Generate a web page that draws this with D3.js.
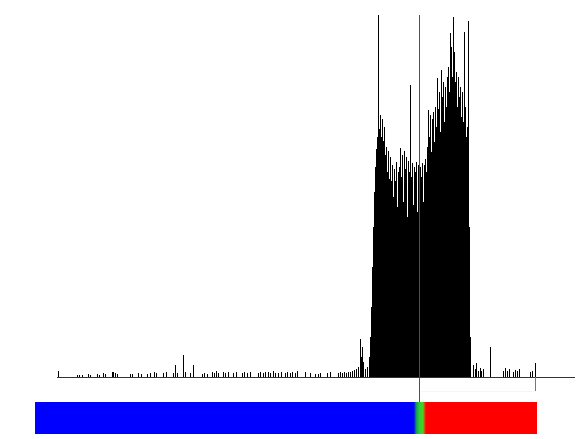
<!DOCTYPE html>
<html>
<head>
<meta charset="utf-8">
<script src="https://cdn.jsdelivr.net/npm/d3@7"></script>
<style>
  html, body { margin: 0; padding: 0; background: #fff; }
  svg { display: block; }
</style>
</head>
<body>
<svg id="chart" width="578" height="439"></svg>
<script>
// Histogram of read counts per bin, with a score band underneath.
const binCount = 480;

// Scattered low-count bins on either side of the main peak.
const sparseBins = [
  1, 20, 22, 25, 31, 33, 40, 42, 46, 48, 55, 56, 58, 60, 73, 75, 81, 84, 90, 93,
  97, 99, 106, 109, 116, 118, 120, 126, 128, 133, 136, 145, 147, 150, 155, 157,
  159, 161, 166, 168, 171, 176, 179, 185, 187, 190, 193, 201, 203, 206, 208, 211,
  213, 216, 218, 221, 224, 228, 230, 233, 235, 238, 240, 248, 253, 258, 261, 263,
  270, 273, 281, 283, 285, 287, 289, 291, 293, 295, 297, 299, 301, 303, 304, 305,
  306, 308, 310,
  416, 418, 419, 421, 423, 424, 426, 433, 446, 448, 450, 452, 456, 458, 460, 462,
  473, 475, 478
];
const sparseCounts = [
  6, 2, 2, 2, 3, 2, 3, 2, 4, 3, 5, 5, 4, 3, 3, 3, 4, 3, 3, 4,
  5, 4, 4, 5, 4, 12, 4, 22, 5, 4, 12, 3, 4, 3, 5, 4,
  6, 4, 5, 4, 5, 4, 5, 4, 5, 4, 5, 4, 5, 4, 5, 5,
  4, 6, 4, 4, 5, 4, 5, 4, 5, 4, 6, 5, 4, 3, 3, 4,
  4, 5, 4, 5, 4, 5, 4, 5, 5, 6, 7, 8, 10, 38, 20, 30,
  15, 8, 10,
  12, 8, 14, 6, 9, 6, 8, 30, 6, 9, 6, 8, 5, 7, 6, 8,
  5, 6, 14
];

// Contiguous counts of the main peak, starting at peakStart.
const peakStart = 312;
const peakCounts = [
  20, 40, 70, 110, 150, 185, 210, 228, 240, 362,
  248, 262, 240, 258, 236, 250, 222, 230, 205, 226,
  198, 220, 196, 212, 180, 208, 196, 215, 170, 205,
  210, 229, 200, 222, 175, 226, 208, 220, 160, 216,
  205, 292, 200, 214, 172, 210, 205, 215, 165, 212,
  206, 210, 200, 214, 175, 212, 218, 205, 230, 267,
  240, 262, 225, 258, 265, 235, 270, 250, 299, 268,
  285, 245, 307, 280, 295, 255, 290, 270, 300, 310,
  285, 344, 330, 300, 360, 325, 295, 305, 270, 300,
  280, 290, 260, 285, 255, 345, 270, 240, 250, 356,
  150, 40
];
const countMax = 362;

// Position of the cut-off marker and end of the scored range (bin units).
const markerBin = 362;
const rangeEndBin = 478;

// Score band: blue below the cut-off, a short blend, then red.
const bandEdges = [-22, 357, 369, 480];
const bandColors = ["#0000ff", "blend", "#ff0000"];
const blendStops = [
  { offset: 0.00, color: "#0010f0" },
  { offset: 0.20, color: "#129a58" },
  { offset: 0.45, color: "#30d030" },
  { offset: 0.75, color: "#48d020" },
  { offset: 0.90, color: "#e04010" },
  { offset: 1.00, color: "#ff0000" }
];

const bins = [];
sparseBins.forEach((b, i) => bins.push({ bin: b, count: sparseCounts[i] }));
peakCounts.forEach((c, i) => bins.push({ bin: peakStart + i, count: c }));

const svg = d3.select("#chart");
const x = d3.scaleLinear().domain([0, binCount]).range([57, 537]);
const y = d3.scaleLinear().domain([0, countMax]).range([377, 15]);

// Gradient for the blend segment of the band
const defs = svg.append("defs");
const grad = defs.append("linearGradient")
  .attr("id", "blend").attr("x1", "0%").attr("x2", "100%")
  .attr("y1", "0%").attr("y2", "0%");
grad.selectAll("stop").data(blendStops).join("stop")
  .attr("offset", d => d.offset)
  .attr("stop-color", d => d.color);

// Score band
const bandY0 = 402, bandY1 = 434;
svg.append("g").selectAll("rect")
  .data(bandColors.map((c, i) => ({ c, a: bandEdges[i], b: bandEdges[i + 1] })))
  .join("rect")
  .attr("x", d => x(d.a))
  .attr("y", bandY0)
  .attr("width", d => x(d.b) - x(d.a))
  .attr("height", bandY1 - bandY0)
  .attr("fill", d => d.c === "blend" ? "url(#blend)" : d.c)
  .attr("shape-rendering", "crispEdges");

// Faint bracket under the scored range
svg.append("line")
  .attr("x1", x(markerBin) + 2).attr("x2", x(rangeEndBin) + 0.5)
  .attr("y1", 391.5).attr("y2", 391.5)
  .attr("stroke", "#faf5ee").attr("stroke-width", 1);

// Histogram bars
svg.append("g").selectAll("rect")
  .data(bins)
  .join("rect")
  .attr("x", d => x(d.bin))
  .attr("y", d => y(d.count))
  .attr("width", d => x(d.bin + 1) - x(d.bin))
  .attr("height", d => y(0) - y(d.count))
  .attr("fill", "#000")
  .attr("shape-rendering", "crispEdges");

// Baseline
svg.append("line")
  .attr("x1", x(0)).attr("x2", 575)
  .attr("y1", y(0) + 0.5).attr("y2", y(0) + 0.5)
  .attr("stroke", "#333").attr("stroke-width", 1);

// Cut-off marker running through the band
svg.append("line")
  .attr("x1", x(markerBin) + 0.5).attr("x2", x(markerBin) + 0.5)
  .attr("y1", y(countMax)).attr("y2", bandY0)
  .attr("stroke", "#5a4c52").attr("stroke-width", 1);

// End-of-range tick
svg.append("line")
  .attr("x1", x(rangeEndBin) + 0.5).attr("x2", x(rangeEndBin) + 0.5)
  .attr("y1", y(0)).attr("y2", 391)
  .attr("stroke", "#777").attr("stroke-width", 1);
</script>
</body>
</html>
